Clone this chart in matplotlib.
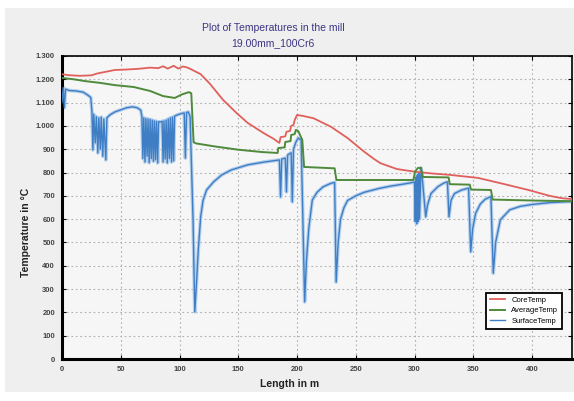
import matplotlib
matplotlib.use("Agg")
import matplotlib.pyplot as plt
from matplotlib.patches import Rectangle
from matplotlib.ticker import FuncFormatter

# values (length in m, temperature in degC)
core_len = [0, 5, 15, 25, 30, 38, 45, 55, 65, 75, 82, 86, 90, 95, 99, 103, 107, 111,
            118, 126, 137, 148, 158, 172, 180, 185, 186, 190, 191, 194, 195, 197, 198,
            200, 205, 214, 229, 243, 257, 265, 271, 285, 301, 315, 330, 354, 375, 397,
            415, 425, 434]
core_temp = [1222, 1218, 1215, 1217, 1225, 1233, 1240, 1242, 1245, 1250, 1248, 1256, 1246,
             1258, 1246, 1255, 1250, 1240, 1222, 1180, 1112, 1058, 1013, 968, 945, 927,
             952, 955, 975, 978, 1000, 1004, 1025, 1047, 1043, 1033, 996, 948, 890, 860,
             840, 815, 803, 796, 790, 777, 752, 725, 700, 690, 686]

avg_len = [0, 10, 20, 32, 45, 61, 75, 86, 96, 102, 108, 110, 112, 114, 130, 150, 170,
           183.5, 184, 189.5, 190, 194.5, 195, 198, 199, 201, 204.5, 206, 232, 233.5,
           299, 300.5, 303, 305.5, 307, 329, 330, 347, 348, 365, 366.5, 400, 434]
avg_temp = [1206, 1200, 1192, 1185, 1175, 1167, 1150, 1128, 1120, 1135, 1145, 1140, 930,
            925, 912, 898, 888, 884, 905, 908, 931, 935, 961, 965, 983, 978, 940, 824,
            818, 768, 768, 805, 820, 820, 781, 779, 750, 748, 727, 725, 684, 680, 677]

surf_len = [0, 1, 2, 3, 6, 12, 18, 22, 24.5,
            25.5, 26.3, 27, 28.3, 29.2, 30.5, 31.3, 32.6, 33.4, 34.7, 35.6, 37.3, 38.2,
            41, 45, 50, 55, 60, 64, 67,
            68, 68.8, 69.6, 70.6, 71.4, 72.4, 73.2, 74.2, 75, 76, 76.8, 77.8, 78.6,
            79.6, 80.4, 81.4, 82.2,
            84, 85.2, 86, 86.8, 87.8, 88.6, 89.6, 90.4, 91.4, 92.2, 93.2, 94, 95, 95.8,
            98, 101, 104, 105, 106, 107.5, 109,
            111.5, 113, 114.5, 116, 118, 120, 123, 129, 136, 144, 158, 172, 185,
            186, 187, 190, 191, 192, 195, 196, 197, 199, 201, 203.5,
            206.5, 208, 210, 213, 217, 222, 228, 232, 233.3, 235, 237, 240, 243, 250,
            257, 270, 280, 290, 299,
            300, 300.6, 301.2, 301.8, 302.4, 303, 303.6, 304.2, 305.5, 306.5, 309.5,
            311, 314, 320, 325, 328, 329.3, 331, 334, 340, 346, 347.8, 349.5, 352, 356,
            360, 365, 367, 369, 373, 381, 390, 400, 415, 434]
surf_temp = [1100, 1165, 1078, 1158, 1152, 1150, 1145, 1132, 1122,
             1060, 897, 1050, 927, 1040, 884, 1035, 900, 1038, 870, 1030, 854, 1035,
             1048, 1060, 1069, 1078, 1082, 1078, 1068,
             1040, 860, 1035, 845, 1032, 870, 1030, 842, 1028, 860, 1025, 848, 1022,
             855, 1020, 841, 1018,
             1017, 1020, 845, 1022, 858, 1025, 841, 1030, 860, 1035, 845, 1038, 850, 1042,
             1047, 1052, 1056, 862, 1058, 1060, 1040,
             600, 202, 330, 470, 610, 680, 725, 760, 790, 811, 833, 845, 854,
             695, 858, 862, 717, 875, 885, 674, 900, 930, 948, 940,
             245, 420, 560, 682, 715, 738, 752, 758, 330, 500, 600, 650, 680, 700,
             715, 732, 742, 750, 758,
             760, 590, 780, 580, 790, 590, 800, 600, 820, 780, 610,
             660, 710, 740, 755, 760, 610, 680, 710, 725, 733, 460, 560, 625, 665,
             685, 697, 368, 500, 597, 640, 655, 663, 671, 676]

y_ticks = list(range(0, 1301, 100))
x_ticks = list(range(0, 401, 50))

FONT = "Liberation Sans"

fig = plt.figure(figsize=(5.74, 4.01), dpi=100, facecolor="white")
fig.patches.append(Rectangle((5 / 574, 9 / 401), 1.0, 384 / 401,
                             transform=fig.transFigure, facecolor="#efefef",
                             edgecolor="none", zorder=-10))

ax = fig.add_axes([62 / 574, 1 - 359 / 401, 510 / 574, 303 / 401])
ax.set_facecolor("#f6f6f6")

ax.plot(core_len, core_temp, color="#e0605c", lw=1.3, label="CoreTemp", zorder=4)
ax.plot(avg_len, avg_temp, color="#4f8a3c", lw=1.4, label="AverageTemp", zorder=5)
ax.plot(surf_len, surf_temp, color="#b5d0ec", lw=2.6, zorder=2)
ax.plot(surf_len, surf_temp, color="#3f7ec4", lw=1.0, label="SurfaceTemp", zorder=3)

ax.set_xlim(0, 434)
ax.set_ylim(0, 1300)
ax.set_xticks(x_ticks)
ax.set_yticks(y_ticks)
ax.yaxis.set_major_formatter(FuncFormatter(lambda v, p: f"{int(v):,}".replace(",", ".")))
ax.grid(True, color="#b0b0b0", lw=0.8, linestyle=(0, (1.5, 2.5)))
ax.tick_params(direction="in", top=True, right=True, length=3, width=0.8,
               labelsize=5.5, pad=5)
for lbl in ax.get_xticklabels() + ax.get_yticklabels():
    lbl.set_fontfamily(FONT)
    lbl.set_fontweight("bold")
    lbl.set_color("#444444")

for side in ["top", "right"]:
    ax.spines[side].set_linewidth(1.2)
for side in ["left", "bottom"]:
    ax.spines[side].set_linewidth(2.2)

fig.text(273 / 574, 1 - 28 / 401, "Plot of Temperatures in the mill", ha="center",
         va="center", fontsize=7.5, color="#3c3482", family=FONT)
fig.text(273 / 574, 1 - 43 / 401, "19.00mm_100Cr6", ha="center",
         va="center", fontsize=7.5, color="#3c3482", family=FONT)
fig.text(290 / 574, 1 - 384 / 401, "Length in m", ha="center", va="center",
         fontsize=7.5, color="#222222", family=FONT, fontweight="bold")
fig.text(26 / 574, 1 - 232 / 401, "Temperature in °C", ha="center", va="center",
         rotation=90, fontsize=7.5, color="#222222", family=FONT, fontweight="bold")

leg = ax.legend(loc="lower right", bbox_to_anchor=(0.988, 0.088), fancybox=False,
                framealpha=1, edgecolor="black", prop={"family": FONT, "size": 5.5},
                handlelength=2.0, borderpad=0.5, labelspacing=0.4)
leg.get_frame().set_linewidth(1.3)

fig.savefig("out.png", dpi=100, facecolor="white")
